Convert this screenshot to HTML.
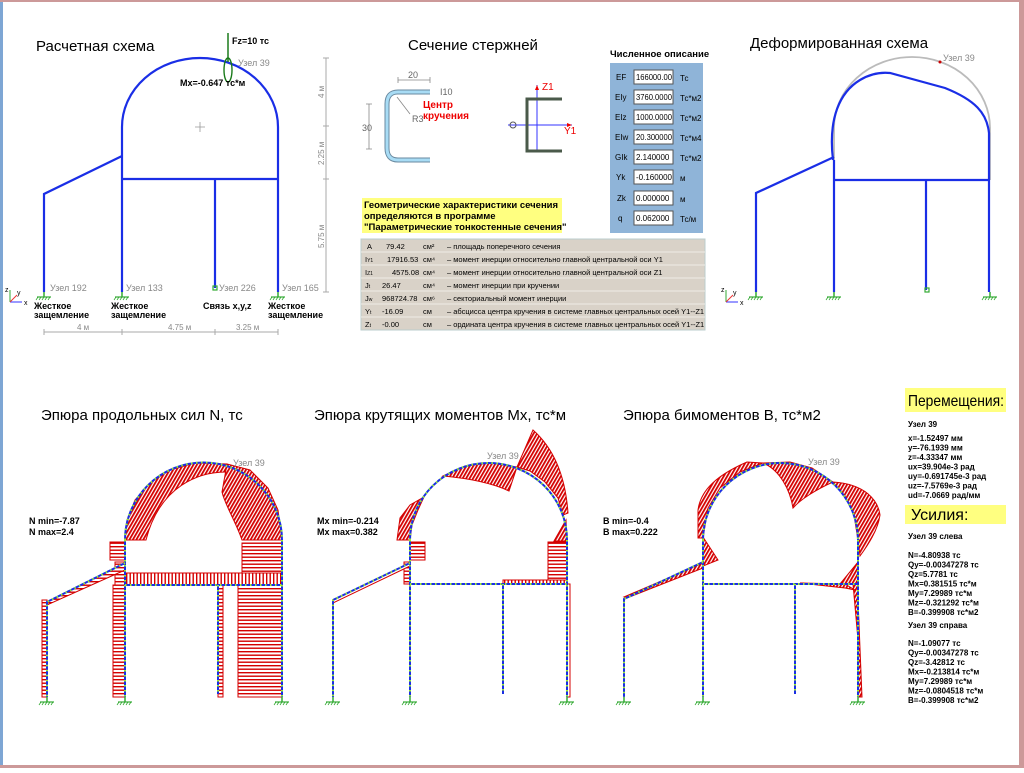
<!DOCTYPE html>
<html><head><meta charset="utf-8"><style>
body{margin:0;width:1024px;height:768px;overflow:hidden;background:#fff;font-family:"Liberation Sans",sans-serif}
svg text{font-family:"Liberation Sans","DejaVu Sans",sans-serif}
</style></head><body>
<svg width="1024" height="768" viewBox="0 0 1024 768" xmlns="http://www.w3.org/2000/svg">
<defs>
<pattern id="hh" width="4" height="3.5" patternUnits="userSpaceOnUse"><rect width="4" height="3.5" fill="#fff"/><rect width="4" height="1.4" fill="#d40000"/></pattern>
<pattern id="hv" width="3.5" height="4" patternUnits="userSpaceOnUse"><rect width="3.5" height="4" fill="#fff"/><rect width="1.4" height="4" fill="#d40000"/></pattern>
<pattern id="hd" width="3" height="3" patternUnits="userSpaceOnUse" patternTransform="rotate(30)"><rect width="3" height="3" fill="#fff"/><rect width="1.8" height="3" fill="#d40000"/></pattern>
<g id="sup"><line x1="0" y1="0" x2="0" y2="5" stroke="#3a3" stroke-width="1.5"/><line x1="-7" y1="5" x2="7" y2="5" stroke="#3a3" stroke-width="1.2"/><path d="M-6,5l-2,3M-3,5l-2,3M0,5l-2,3M3,5l-2,3M6,5l-2,3" stroke="#3a3" stroke-width="0.8"/></g>
<g id="axes"><line x1="0" y1="0" x2="0" y2="-12" stroke="#3a3"/><line x1="0" y1="0" x2="12" y2="0" stroke="#33f"/><line x1="0" y1="0" x2="7" y2="-7" stroke="#e33"/><text x="-5" y="-10" font-size="7">z</text><text x="14" y="3" font-size="7">x</text><text x="7" y="-7" font-size="7">y</text></g>
</defs>
<rect x="0" y="0" width="1024" height="768" fill="#fff"/>
<rect x="0" y="0" width="3" height="768" fill="#7ea6d4"/>
<rect x="0" y="0" width="1024" height="2" fill="#c99"/>
<rect x="1019" y="0" width="5" height="768" fill="#c99"/>
<rect x="0" y="765" width="1024" height="3" fill="#c99"/>

<!-- ===== Top-left scheme ===== -->
<text x="36" y="51" font-size="15">Расчетная схема</text>
<g stroke="#1a2ee6" stroke-width="2.2" fill="none">
<path d="M122,127 A78,69 0 0 1 278,127"/>
<path d="M122,127V292M278,127V292M122,179H278M215,179V288M122,156L44,194V292"/>
</g>
<path d="M195,127h10M200,122v10" stroke="#999" stroke-width="0.8"/>
<line x1="228" y1="33" x2="228" y2="62" stroke="#1a7a1a" stroke-width="1.5"/>
<ellipse cx="228" cy="70" rx="4" ry="12" fill="none" stroke="#1a7a1a" stroke-width="1.4"/>
<text x="232" y="44" font-size="9" font-weight="bold">Fz=10 тс</text>
<text x="238" y="66" font-size="9" fill="#888">Узел 39</text>
<text x="180" y="86" font-size="9" font-weight="bold">Mx=-0.647 тс*м</text>
<use href="#sup" x="44" y="292"/><use href="#sup" x="122" y="292"/><use href="#sup" x="278" y="292"/>
<rect x="213" y="286" width="4" height="4" fill="none" stroke="#3a3" stroke-width="1.2"/>
<g font-size="9" fill="#888"><text x="50" y="291">Узел 192</text><text x="126" y="291">Узел 133</text><text x="219" y="291">Узел 226</text><text x="282" y="291">Узел 165</text></g>
<g font-size="9" font-weight="bold"><text x="34" y="309">Жесткое</text><text x="34" y="318">защемление</text><text x="111" y="309">Жесткое</text><text x="111" y="318">защемление</text><text x="203" y="309">Связь x,y,z</text><text x="268" y="309">Жесткое</text><text x="268" y="318">защемление</text></g>
<use href="#axes" x="10" y="302"/>
<g stroke="#aaa" stroke-width="1"><line x1="326" y1="58" x2="326" y2="292"/><path d="M323,58h6M323,126h6M323,179h6M323,292h6"/>
<line x1="44" y1="332" x2="278" y2="332"/><path d="M44,329v6M122,329v6M215,329v6M278,329v6"/></g>
<g font-size="8" fill="#888"><text x="77" y="330">4 м</text><text x="168" y="330">4.75 м</text><text x="236" y="330">3.25 м</text>
<text transform="translate(324,98) rotate(-90)">4 м</text><text transform="translate(324,165) rotate(-90)">2.25 м</text><text transform="translate(324,248) rotate(-90)">5.75 м</text></g>

<!-- ===== Section ===== -->
<text x="408" y="50" font-size="15">Сечение стержней</text>
<path d="M430,92 H398 Q387,92 387,104 V148 Q387,160 398,160 H430" fill="none" stroke="#6a8aa0" stroke-width="5"/>
<path d="M430,92 H398 Q387,92 387,104 V148 Q387,160 398,160 H430" fill="none" stroke="#a8dcf5" stroke-width="3"/>
<path d="M398,80h32M398,77v6M430,77v6M369,104v45M366,104h6M366,149h6" stroke="#888" stroke-width="0.8"/>
<line x1="397" y1="97" x2="410" y2="114" stroke="#888" stroke-width="0.8"/>
<g font-size="9" fill="#666"><text x="408" y="78">20</text><text x="440" y="95">I10</text><text x="362" y="131">30</text><text x="412" y="122">R3</text></g>
<line x1="537" y1="85" x2="537" y2="152" stroke="#33f"/><line x1="508" y1="125" x2="572" y2="125" stroke="#33f"/>
<path d="M537,85l-2,5h4zM572,125l-5,-2v4z" fill="#e00"/>
<path d="M562,99 H527 V151 H562" fill="none" stroke="#4a5a4a" stroke-width="3"/>
<circle cx="513" cy="125" r="3" fill="none" stroke="#555"/>
<g font-size="10" fill="#e00"><text x="542" y="90">Z1</text><text x="564" y="134">Y1</text>
<text x="423" y="108" font-weight="bold">Центр</text><text x="423" y="119" font-weight="bold">кручения</text></g>
<rect x="362" y="198" width="200" height="35" fill="#ffff80"/>
<g font-size="9.5" font-weight="bold"><text x="364" y="208">Геометрические характеристики сечения</text><text x="364" y="219">определяются в программе</text><text x="364" y="230">"Параметрические тонкостенные сечения"</text></g>

<text x="610" y="57" font-size="9.5" font-weight="bold">Численное описание</text>
<rect x="610" y="63" width="93" height="170" fill="#8fb4d8"/>
<g font-size="8">
<g><rect x="634" y="70" width="39" height="14" fill="#fff" stroke="#555"/><text x="636" y="80" textLength="36" lengthAdjust="spacingAndGlyphs">166000.00</text><text x="616" y="80">EF</text><text x="680" y="81">Тс</text></g>
<g><rect x="634" y="90" width="39" height="14" fill="#fff" stroke="#555"/><text x="636" y="100" textLength="36" lengthAdjust="spacingAndGlyphs">3760.0000</text><text x="615" y="100">EIy</text><text x="680" y="101">Тс*м2</text></g>
<g><rect x="634" y="110" width="39" height="14" fill="#fff" stroke="#555"/><text x="636" y="120" textLength="36" lengthAdjust="spacingAndGlyphs">1000.0000</text><text x="615" y="120">EIz</text><text x="680" y="121">Тс*м2</text></g>
<g><rect x="634" y="130" width="39" height="14" fill="#fff" stroke="#555"/><text x="636" y="140" textLength="36" lengthAdjust="spacingAndGlyphs">20.300000</text><text x="615" y="140">EIw</text><text x="680" y="141">Тс*м4</text></g>
<g><rect x="634" y="150" width="39" height="14" fill="#fff" stroke="#555"/><text x="636" y="160">2.140000</text><text x="615" y="160">GIk</text><text x="680" y="161">Тс*м2</text></g>
<g><rect x="634" y="170" width="39" height="14" fill="#fff" stroke="#555"/><text x="636" y="180" textLength="36" lengthAdjust="spacingAndGlyphs">-0.160000</text><text x="616" y="180">Yk</text><text x="680" y="181">м</text></g>
<g><rect x="634" y="191" width="39" height="14" fill="#fff" stroke="#555"/><text x="636" y="201">0.000000</text><text x="617" y="201">Zk</text><text x="680" y="202">м</text></g>
<g><rect x="634" y="211" width="39" height="14" fill="#fff" stroke="#555"/><text x="636" y="221">0.062000</text><text x="618" y="221">q</text><text x="680" y="222">Тс/м</text></g>
</g>

<rect x="361" y="239" width="344" height="91" fill="#d9d2c8" stroke="#bcc"/>
<g stroke="#f0ece6" stroke-width="1"><path d="M361,252H705M361,265H705M361,278H705M361,291H705M361,304H705M361,317H705"/></g>
<g font-size="7.5">
<text x="367" y="249">A</text><text x="386" y="249">79.42</text><text x="423" y="249">см²</text><text x="447" y="249">– площадь поперечного сечения</text>
<text x="365" y="262">I<tspan font-size="5">Y1</tspan></text><text x="387" y="262">17916.53</text><text x="423" y="262">см⁴</text><text x="447" y="262">– момент инерции относительно главной центральной оси Y1</text>
<text x="365" y="275">I<tspan font-size="5">Z1</tspan></text><text x="392" y="275">4575.08</text><text x="423" y="275">см⁴</text><text x="447" y="275">– момент инерции относительно главной центральной оси Z1</text>
<text x="365" y="288">J<tspan font-size="5">t</tspan></text><text x="382" y="288">26.47</text><text x="423" y="288">см⁴</text><text x="447" y="288">– момент инерции при кручении</text>
<text x="365" y="301">J<tspan font-size="5">w</tspan></text><text x="382" y="301">968724.78</text><text x="423" y="301">см⁶</text><text x="447" y="301">– секториальный момент инерции</text>
<text x="365" y="314">Y<tspan font-size="5">t</tspan></text><text x="382" y="314">-16.09</text><text x="423" y="314">см</text><text x="447" y="314">– абсцисса центра кручения в системе главных центральных осей Y1--Z1</text>
<text x="365" y="327">Z<tspan font-size="5">t</tspan></text><text x="382" y="327">-0.00</text><text x="423" y="327">см</text><text x="447" y="327">– ордината центра кручения в системе главных центральных осей Y1--Z1</text>
</g>

<!-- ===== Deformed ===== -->
<text x="750" y="48" font-size="15">Деформированная схема</text>
<path d="M834,128 A78,71 0 0 1 990,128 V180 M834,128 V180 H990" fill="none" stroke="#bbb" stroke-width="1.8"/>
<g stroke="#1a2ee6" stroke-width="2.2" fill="none">
<path d="M833,160 C828,118 840,92 860,80 C870,74 880,72 890,73 L945,88 C975,100 987,113 989,133 V292"/>
<path d="M834,160V292M834,180H989M926,180V290M834,157L756,193V292"/>
</g>
<circle cx="940" cy="62" r="1.5" fill="#c00"/>
<text x="943" y="61" font-size="9" fill="#888">Узел 39</text>
<use href="#sup" x="756" y="292"/><use href="#sup" x="834" y="292"/><use href="#sup" x="990" y="292"/>
<rect x="925" y="288" width="4" height="4" fill="none" stroke="#3a3" stroke-width="1.2"/>
<use href="#axes" x="726" y="302"/>

<!-- ===== N diagram ===== -->
<text x="41" y="420" font-size="15">Эпюра продольных сил N, тс</text>
<g fill="url(#hd)" stroke="#d40000">
<path d="M125,540 L127,520 L135,500 L150,483 L170,470 L195,463 L227,464 L226,472 C200,472 160,485 146,540 Z"/>
<path d="M227,464 L250,470 L268,488 L278,510 L282,540 H242 C235,520 225,505 222,492 Z"/>
</g>
<g stroke="#d40000" stroke-width="1">
<rect x="110" y="542" width="15" height="18" fill="url(#hh)"/>
<rect x="115" y="562" width="10" height="23" fill="url(#hh)"/>
<rect x="125" y="573" width="157" height="12" fill="url(#hv)"/>
<rect x="242" y="543" width="40" height="30" fill="url(#hh)"/>
<rect x="113" y="585" width="12" height="112" fill="url(#hh)"/>
<rect x="218" y="585" width="5" height="112" fill="url(#hh)"/>
<rect x="238" y="585" width="44" height="112" fill="url(#hh)"/>
<rect x="42" y="600" width="5" height="97" fill="url(#hh)"/>
<path d="M47,602 L125,563 L125,570 L47,605Z" fill="url(#hh)"/>
</g>
<g fill="none" stroke-width="2"><g stroke="#1a2ee6"><path d="M125,540 A78,77 0 0 1 282,540"/><path d="M125,540V697M282,540V697M125,585H282M218,585V694M125,563L47,602V697"/></g>
<g stroke="#9e3" stroke-dasharray="1.5 3.5"><path d="M125,540 A78,77 0 0 1 282,540"/><path d="M125,540V697M282,540V697M125,585H282M218,585V694M125,563L47,602V697"/></g></g>
<use href="#sup" x="47" y="697"/><use href="#sup" x="125" y="697"/><use href="#sup" x="282" y="697"/>
<text x="233" y="466" font-size="9" fill="#888">Узел 39</text>
<g font-size="9" font-weight="bold"><text x="29" y="524">N min=-7.87</text><text x="29" y="535">N max=2.4</text></g>

<!-- ===== Mx diagram ===== -->
<text x="314" y="420" font-size="15">Эпюра крутящих моментов Mx, тс*м</text>
<g fill="url(#hd)" stroke="#d40000">
<path d="M397,540 L400,518 L410,505 L424,497 L418,510 L412,525 L410,540 Z"/>
<path d="M443,476 L465,466 L490,463 L517,467 L509,491 C490,482 465,478 443,476Z"/>
<path d="M517,467 L533,430 C550,445 565,470 568,513 L563,515 L558,498 L545,482 L530,471 Z"/>
<path d="M554,541 L566,520 L567,541Z"/>
</g>
<g stroke="#d40000" stroke-width="1">
<rect x="410" y="542" width="15" height="18" fill="url(#hh)"/>
<rect x="404" y="562" width="6" height="22" fill="url(#hh)"/>
<rect x="548" y="542" width="19" height="42" fill="url(#hh)"/>
<rect x="503" y="580" width="64" height="4" fill="url(#hv)"/>
<rect x="567" y="584" width="3" height="113" fill="#fff"/>
<path d="M333,600 L410,563 L410,566 L333,603Z" fill="#fff"/>
</g>
<g fill="none" stroke-width="2"><g stroke="#1a2ee6"><path d="M410,540 A78.5,77 0 0 1 567,540"/><path d="M410,540V697M567,540V697M410,584H567M503,584V694M410,563L333,600V697"/></g>
<g stroke="#9e3" stroke-dasharray="1.5 3.5"><path d="M410,540 A78.5,77 0 0 1 567,540"/><path d="M410,540V697M567,540V697M410,584H567M503,584V694M410,563L333,600V697"/></g></g>
<use href="#sup" x="333" y="697"/><use href="#sup" x="410" y="697"/><use href="#sup" x="567" y="697"/>
<text x="487" y="459" font-size="9" fill="#888">Узел 39</text>
<g font-size="9" font-weight="bold"><text x="317" y="524">Mx min=-0.214</text><text x="317" y="535">Mx max=0.382</text></g>

<!-- ===== B diagram ===== -->
<text x="623" y="420" font-size="15">Эпюра бимоментов B, тс*м2</text>
<g fill="url(#hd)" stroke="#d40000">
<path d="M703,538 L698,538 L698,510 C700,495 710,478 747,462 L763,463 L740,472 L720,488 L708,508 Z"/>
<path d="M763,463 L790,462 L812,468 L833,482 C815,490 800,500 793,508 C790,490 780,470 763,463Z"/>
<path d="M833,482 C865,484 878,500 880,515 C878,530 868,545 860,556 L858,540 L854,515 L845,496 Z"/>
<path d="M703,537 L718,560 L703,566Z"/>
<path d="M703,563 L703,568 L627,598 L624,597Z"/>
<path d="M840,584 L858,562 L858,600 L860,662 L853,584Z"/>
<path d="M800,583 L845,588 L855,590 L845,584Z"/>
<path d="M858,600 L862,697 L858,697Z"/>
</g>
<g fill="none" stroke-width="2"><g stroke="#1a2ee6"><path d="M703,540 A77.5,77 0 0 1 858,540"/><path d="M703,540V697M858,540V697M703,584H858M795,584V694M703,562L624,599V697"/></g>
<g stroke="#9e3" stroke-dasharray="1.5 3.5"><path d="M703,540 A77.5,77 0 0 1 858,540"/><path d="M703,540V697M858,540V697M703,584H858M795,584V694M703,562L624,599V697"/></g></g>
<use href="#sup" x="624" y="697"/><use href="#sup" x="703" y="697"/><use href="#sup" x="858" y="697"/>
<text x="808" y="465" font-size="9" fill="#888">Узел 39</text>
<g font-size="9" font-weight="bold"><text x="603" y="524">B min=-0.4</text><text x="603" y="535">B max=0.222</text></g>

<!-- ===== Right panel ===== -->
<rect x="905" y="388" width="101" height="24" fill="#ffff80"/>
<text x="908" y="406" font-size="16" textLength="96" lengthAdjust="spacingAndGlyphs">Перемещения:</text>
<g font-size="8" font-weight="bold">
<text x="908" y="427">Узел 39</text>
<text x="908" y="441">x=-1.52497 мм</text><text x="908" y="450.5">y=-76.1939 мм</text><text x="908" y="460">z=-4.33347 мм</text><text x="908" y="469.5">ux=39.904e-3 рад</text><text x="908" y="479">uy=-0.691745e-3 рад</text><text x="908" y="488.5">uz=-7.5769e-3 рад</text><text x="908" y="498">ud=-7.0669 рад/мм</text>
</g>
<rect x="905" y="505" width="101" height="19" fill="#ffff80"/>
<text x="911" y="520" font-size="16">Усилия:</text>
<g font-size="8" font-weight="bold">
<text x="908" y="539">Узел 39 слева</text>
<text x="908" y="558">N=-4.80938 тс</text><text x="908" y="567.5">Qy=-0.00347278 тс</text><text x="908" y="577">Qz=5.7781 тс</text><text x="908" y="586.5">Mx=0.381515 тс*м</text><text x="908" y="596">My=7.29989 тс*м</text><text x="908" y="605.5">Mz=-0.321292 тс*м</text><text x="908" y="615">B=-0.399908 тс*м2</text>
<text x="908" y="628">Узел 39 справа</text>
<text x="908" y="646">N=-1.09077 тс</text><text x="908" y="655.5">Qy=-0.00347278 тс</text><text x="908" y="665">Qz=-3.42812 тс</text><text x="908" y="674.5">Mx=-0.213814 тс*м</text><text x="908" y="684">My=7.29989 тс*м</text><text x="908" y="693.5">Mz=-0.0804518 тс*м</text><text x="908" y="703">B=-0.399908 тс*м2</text>
</g>
</svg>
</body></html>
